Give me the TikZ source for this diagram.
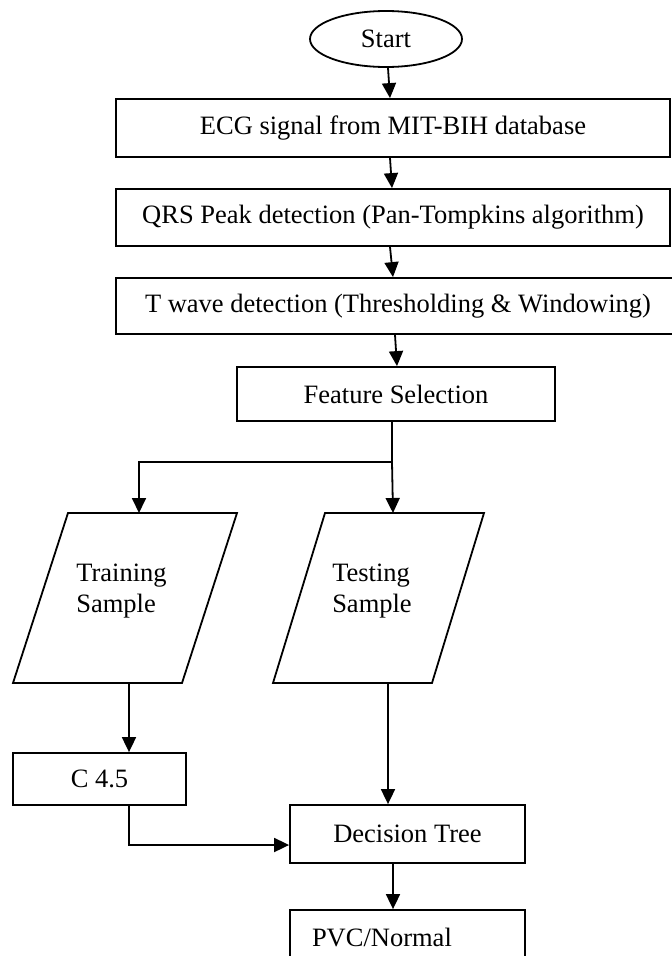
\documentclass[tikz,border=0pt]{standalone}
\usepackage{fontspec}
\setmainfont{Liberation Serif}
\usetikzlibrary{arrows.meta,shapes.geometric,calc}
\tikzset{
  every node/.style={font=\fontsize{26.5}{31}\selectfont},
  stepbox/.style={draw, line width=1.8pt, rectangle, inner sep=0pt},
  oval/.style={draw, line width=1.8pt, ellipse, inner sep=0pt, minimum width=152pt, minimum height=56pt},
  plain/.style={inner sep=0pt, align=left},
  link/.style={line width=1.8pt},
  arr/.style={link, -{Triangle[length=15pt,width=14pt]}},
}
\begin{document}
\begin{tikzpicture}[x=1pt,y=-1pt]
\clip (0,0) rectangle (672,956);
\fill[white] (0,0) rectangle (672,956);

% main pipeline
\node[oval] (start) at (386,39) {Start};
\node[stepbox, minimum width=554pt, minimum height=58pt] (ecg) at (393,128) {ECG signal from MIT-BIH database};
\node[stepbox, minimum width=554pt, minimum height=57pt] (qrs) at (393,217.5) {QRS Peak detection (Pan-Tompkins algorithm)};
\node[stepbox, minimum width=564pt, minimum height=56pt] (twave) at (398,306) {T wave detection (Thresholding \& Windowing)};
\node[stepbox, minimum width=318pt, minimum height=54pt] (feat) at (396,394) {Feature Selection};

% data sets (parallelograms)
\draw[link] (68,513) -- (237,513) -- (182,683) -- (13,683) -- cycle;
\draw[link] (325,513) -- (484,513) -- (432,683) -- (273,683) -- cycle;
\node[plain] (train) at (121.5,591) {Training\\Sample};
\node[plain] (test) at (372,591) {Testing\\Sample};
\coordinate (trainTop) at (139,513);
\coordinate (trainBot) at (129,683);
\coordinate (testTop) at (393,513);
\coordinate (testBot) at (388,683);
\coordinate (branch) at (392,462);

% classifier
\node[stepbox, minimum width=173pt, minimum height=52pt] (c45) at (99.5,779) {C 4.5};
\node[stepbox, minimum width=235pt, minimum height=58pt] (dt) at (407.5,834) {Decision Tree};
\node[stepbox, minimum width=235pt, minimum height=54pt, text width=191pt, align=left] (pvc) at (407.5,937) {PVC/Normal};

% connectors
\draw[arr] ([xshift=2pt]start.south) -- ([xshift=-3pt]ecg.north);
\draw[arr] ([xshift=-3pt]ecg.south) -- ([xshift=-1pt]qrs.north);
\draw[arr] ([xshift=-3pt]qrs.south) -- ([xshift=-5pt]twave.north);
\draw[arr] ([xshift=-3pt]twave.south) -- ([xshift=1pt]feat.north);
\draw[link] (branch |- feat.south) -- (branch);
\draw[arr] (branch) -- (testTop);
\draw[arr] (branch) -| (trainTop);
\draw[arr] (trainBot) -- (trainBot |- c45.north);
\draw[arr] (c45.south -| trainBot) |- ([yshift=-11pt]dt.west);
\draw[arr] (testBot) -- (testBot |- dt.north);
\draw[arr] ([xshift=-14.5pt]dt.south) -- ([xshift=-14.5pt]pvc.north);
\end{tikzpicture}
\end{document}
